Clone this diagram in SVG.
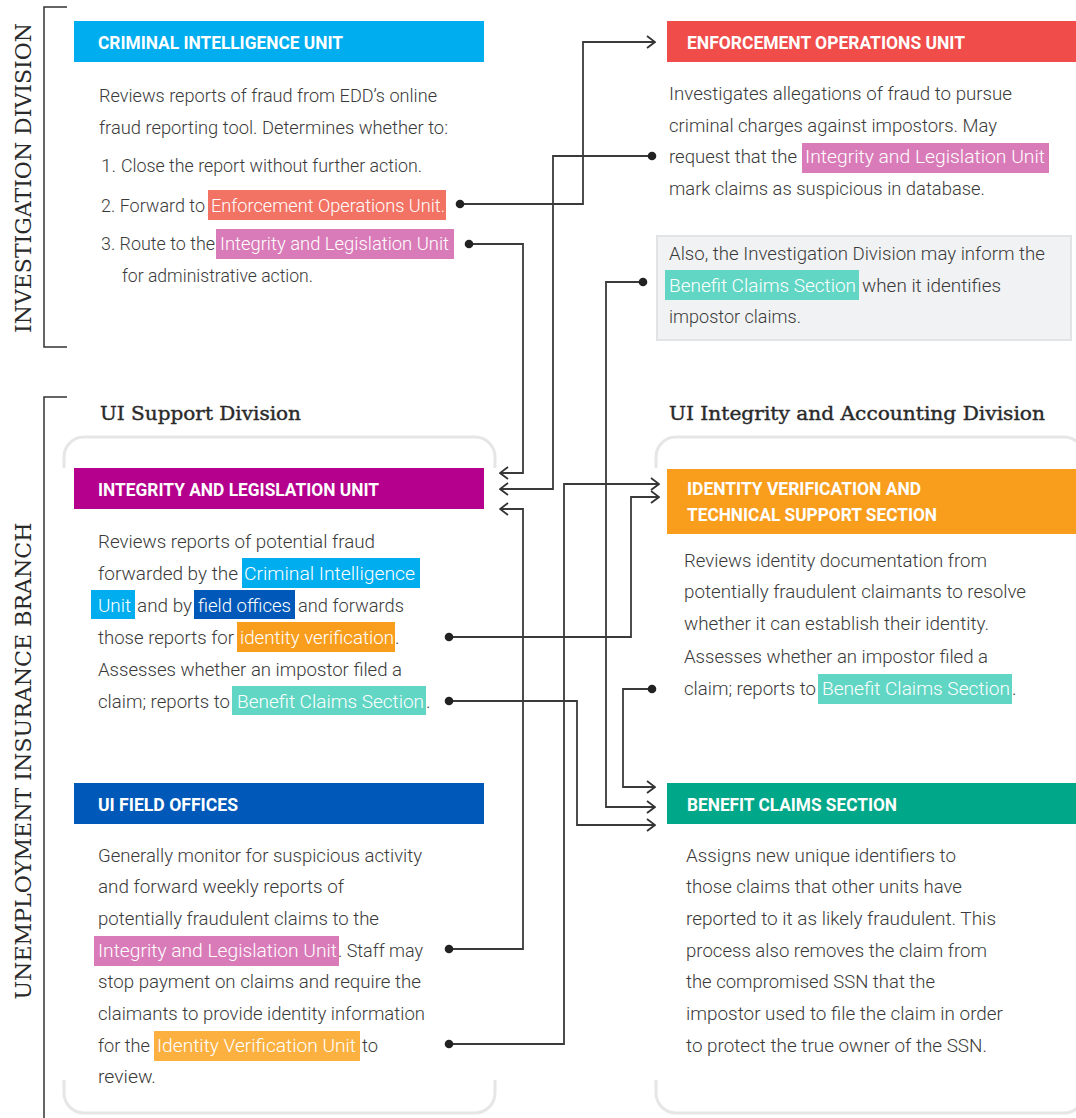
<svg xmlns="http://www.w3.org/2000/svg" width="1076" height="1118" viewBox="0 0 1076 1118">
<style>
.b{font-family:Roboto,"Liberation Sans",sans-serif;font-size:19px;font-weight:300;fill:#3a3a3a}
.w{fill:#ffffff}
.t{font-family:Roboto,"Liberation Sans",sans-serif;font-size:18px;font-weight:700;fill:#ffffff}
.d{font-family:"DejaVu Serif","Liberation Serif",serif;font-size:19px;fill:#2a2a2a;stroke:#2a2a2a;stroke-width:0.4}
.v{font-family:"DejaVu Serif","Liberation Serif",serif;font-size:23px;fill:#2a2a2a}
.br{fill:none;stroke:#333;stroke-width:1.5}
.ct{fill:none;stroke:#e6e6e6;stroke-width:3}
.cn{fill:none;stroke:#3a3a3a;stroke-width:1.8;marker-start:url(#dt);marker-end:url(#ah)}
</style>
<defs>
<marker id="ah" viewBox="0 0 10 14" refX="9" refY="7" markerWidth="10" markerHeight="14" markerUnits="userSpaceOnUse" orient="auto"><path d="M1,1 L9,7 L1,13" fill="none" stroke="#333" stroke-width="1.8"/></marker>
<marker id="dt" viewBox="0 0 10 10" refX="5" refY="5" markerWidth="10" markerHeight="10" markerUnits="userSpaceOnUse"><circle cx="5" cy="5" r="4.3" fill="#222"/></marker>
</defs>
<rect width="1076" height="1118" fill="#ffffff"/>

<g id="investigation-division">
<path class="br" d="M67,7 H44 V347 H67"/>
<text class="v" transform="translate(31,178) rotate(-90)" text-anchor="middle" textLength="310" lengthAdjust="spacingAndGlyphs">INVESTIGATION DIVISION</text>
</g>
<g id="ui-branch">
<path class="br" d="M67,397 H44 V1118"/>
<text class="v" transform="translate(31,761) rotate(-90)" text-anchor="middle" textLength="477" lengthAdjust="spacingAndGlyphs">UNEMPLOYMENT INSURANCE BRANCH</text>
</g>

<g id="ui-support-division">
<text class="d" x="100" y="420" textLength="201" lengthAdjust="spacingAndGlyphs">UI Support Division</text>
<path class="ct" d="M64,468 V457 A20,20 0 0 1 84,437 H475 A20,20 0 0 1 495,457 V468"/>
<path class="ct" d="M64,1080 V1093 A20,20 0 0 0 84,1113 H475 A20,20 0 0 0 495,1093 V1080"/>
</g>
<g id="ui-integrity-division">
<text class="d" x="669" y="420" textLength="376" lengthAdjust="spacingAndGlyphs">UI Integrity and Accounting Division</text>
<path class="ct" d="M656,468 V457 A20,20 0 0 1 676,437 H1064 A20,20 0 0 1 1084,457 V468"/>
<path class="ct" d="M656,1080 V1093 A20,20 0 0 0 676,1113 H1064 A20,20 0 0 0 1084,1093 V1080"/>
</g>

<g id="criminal-intelligence-unit">
<rect x="74" y="21" width="410" height="41" fill="#00aeef"/>
<text class="t" x="98" y="49" textLength="245" lengthAdjust="spacingAndGlyphs">CRIMINAL INTELLIGENCE UNIT</text>
<text class="b" x="99" y="102" textLength="338" lengthAdjust="spacingAndGlyphs">Reviews reports of fraud from EDD’s online</text>
<text class="b" x="99" y="134" textLength="349" lengthAdjust="spacingAndGlyphs">fraud reporting tool. Determines whether to:</text>
<text class="b" x="101" y="172">1.</text>
<text class="b" x="121" y="172" textLength="301" lengthAdjust="spacingAndGlyphs">Close the report without further action.</text>
<text class="b" x="101" y="212" textLength="104" lengthAdjust="spacingAndGlyphs">2. Forward to</text>
<rect x="208" y="190" width="238" height="30" fill="#f27264"/>
<text class="b w" x="211" y="212" textLength="234" lengthAdjust="spacingAndGlyphs">Enforcement Operations Unit.</text>
<text class="b" x="101" y="250" textLength="114" lengthAdjust="spacingAndGlyphs">3. Route to the</text>
<rect x="216" y="229" width="238" height="30" fill="#d97bb8"/>
<text class="b w" x="220" y="250" textLength="229" lengthAdjust="spacingAndGlyphs">Integrity and Legislation Unit</text>
<text class="b" x="122" y="282" textLength="191" lengthAdjust="spacingAndGlyphs">for administrative action.</text>
</g>

<g id="enforcement-operations-unit">
<rect x="667" y="21" width="409" height="41" fill="#ef4c4a"/>
<text class="t" x="687" y="49" textLength="278" lengthAdjust="spacingAndGlyphs">ENFORCEMENT OPERATIONS UNIT</text>
<text class="b" x="669" y="100" textLength="343" lengthAdjust="spacingAndGlyphs">Investigates allegations of fraud to pursue</text>
<text class="b" x="669" y="132" textLength="328" lengthAdjust="spacingAndGlyphs">criminal charges against impostors. May</text>
<text class="b" x="669" y="163" textLength="128" lengthAdjust="spacingAndGlyphs">request that the</text>
<rect x="802" y="143" width="247" height="30" fill="#d97bb8"/>
<text class="b w" x="805" y="163" textLength="240" lengthAdjust="spacingAndGlyphs">Integrity and Legislation Unit</text>
<text class="b" x="669" y="195" textLength="316" lengthAdjust="spacingAndGlyphs">mark claims as suspicious in database.</text>
</g>

<g id="investigation-note">
<rect x="657" y="236" width="414" height="104" fill="#f1f2f4" stroke="#e2e3e5" stroke-width="2"/>
<text class="b" x="669" y="260" textLength="376" lengthAdjust="spacingAndGlyphs">Also, the Investigation Division may inform the</text>
<rect x="665" y="270" width="194" height="30" fill="#62d6c4"/>
<text class="b w" x="669" y="292" textLength="187" lengthAdjust="spacingAndGlyphs">Benefit Claims Section</text>
<text class="b" x="862" y="292" textLength="139" lengthAdjust="spacingAndGlyphs">when it identifies</text>
<text class="b" x="669" y="323" textLength="132" lengthAdjust="spacingAndGlyphs">impostor claims.</text>
</g>

<g id="integrity-legislation-unit">
<rect x="74" y="468" width="410" height="41" fill="#b4008c"/>
<text class="t" x="98" y="496" textLength="281" lengthAdjust="spacingAndGlyphs">INTEGRITY AND LEGISLATION UNIT</text>
<text class="b" x="98" y="548" textLength="277" lengthAdjust="spacingAndGlyphs">Reviews reports of potential fraud</text>
<text class="b" x="98" y="580" textLength="140" lengthAdjust="spacingAndGlyphs">forwarded by the</text>
<rect x="242" y="558" width="178" height="30" fill="#00aeef"/>
<text class="b w" x="244" y="580" textLength="171" lengthAdjust="spacingAndGlyphs">Criminal Intelligence</text>
<rect x="91" y="590" width="44" height="29" fill="#00aeef"/>
<text class="b w" x="98" y="612" textLength="33" lengthAdjust="spacingAndGlyphs">Unit</text>
<text class="b" x="137" y="612" textLength="55" lengthAdjust="spacingAndGlyphs">and by</text>
<rect x="194" y="590" width="101" height="29" fill="#0059b8"/>
<text class="b w" x="198" y="612" textLength="93" lengthAdjust="spacingAndGlyphs">field offices</text>
<text class="b" x="298" y="612" textLength="106" lengthAdjust="spacingAndGlyphs">and forwards</text>
<text class="b" x="98" y="644" textLength="136" lengthAdjust="spacingAndGlyphs">those reports for</text>
<rect x="237" y="622" width="158" height="30" fill="#f99d1d"/>
<text class="b w" x="240" y="644" textLength="154" lengthAdjust="spacingAndGlyphs">identity verification</text>
<text class="b" x="395" y="644">.</text>
<text class="b" x="98" y="676" textLength="304" lengthAdjust="spacingAndGlyphs">Assesses whether an impostor filed a</text>
<text class="b" x="98" y="708" textLength="132" lengthAdjust="spacingAndGlyphs">claim; reports to</text>
<rect x="232" y="686" width="194" height="29" fill="#62d6c4"/>
<text class="b w" x="237" y="708" textLength="187" lengthAdjust="spacingAndGlyphs">Benefit Claims Section</text>
<text class="b" x="426" y="708">.</text>
</g>

<g id="identity-verification-section">
<rect x="667" y="469" width="409" height="65" fill="#f99d1d"/>
<text class="t" x="687" y="495" textLength="234" lengthAdjust="spacingAndGlyphs">IDENTITY VERIFICATION AND</text>
<text class="t" x="687" y="521" textLength="250" lengthAdjust="spacingAndGlyphs">TECHNICAL SUPPORT SECTION</text>
<text class="b" x="684" y="567" textLength="303" lengthAdjust="spacingAndGlyphs">Reviews identity documentation from</text>
<text class="b" x="684" y="598" textLength="342" lengthAdjust="spacingAndGlyphs">potentially fraudulent claimants to resolve</text>
<text class="b" x="684" y="630" textLength="305" lengthAdjust="spacingAndGlyphs">whether it can establish their identity.</text>
<text class="b" x="684" y="663" textLength="304" lengthAdjust="spacingAndGlyphs">Assesses whether an impostor filed a</text>
<text class="b" x="684" y="695" textLength="132" lengthAdjust="spacingAndGlyphs">claim; reports to</text>
<rect x="818" y="674" width="194" height="30" fill="#62d6c4"/>
<text class="b w" x="822" y="695" textLength="188" lengthAdjust="spacingAndGlyphs">Benefit Claims Section</text>
<text class="b" x="1012" y="695">.</text>
</g>

<g id="ui-field-offices">
<rect x="74" y="783" width="410" height="41" fill="#0059b8"/>
<text class="t" x="98" y="811" textLength="140" lengthAdjust="spacingAndGlyphs">UI FIELD OFFICES</text>
<text class="b" x="98" y="862" textLength="324" lengthAdjust="spacingAndGlyphs">Generally monitor for suspicious activity</text>
<text class="b" x="98" y="893" textLength="246" lengthAdjust="spacingAndGlyphs">and forward weekly reports of</text>
<text class="b" x="98" y="925" textLength="281" lengthAdjust="spacingAndGlyphs">potentially fraudulent claims to the</text>
<rect x="94" y="936" width="245" height="30" fill="#d97bb8"/>
<text class="b w" x="98" y="957" textLength="239" lengthAdjust="spacingAndGlyphs">Integrity and Legislation Unit</text>
<text class="b" x="338" y="957" textLength="85" lengthAdjust="spacingAndGlyphs">. Staff may</text>
<text class="b" x="98" y="988" textLength="323" lengthAdjust="spacingAndGlyphs">stop payment on claims and require the</text>
<text class="b" x="98" y="1020" textLength="327" lengthAdjust="spacingAndGlyphs">claimants to provide identity information</text>
<text class="b" x="98" y="1052" textLength="52" lengthAdjust="spacingAndGlyphs">for the</text>
<rect x="154" y="1031" width="206" height="30" fill="#fbb040"/>
<text class="b w" x="157" y="1052" textLength="199" lengthAdjust="spacingAndGlyphs">Identity Verification Unit</text>
<text class="b" x="362" y="1052" textLength="16" lengthAdjust="spacingAndGlyphs">to</text>
<text class="b" x="98" y="1083" textLength="58" lengthAdjust="spacingAndGlyphs">review.</text>
</g>

<g id="benefit-claims-section">
<rect x="667" y="783" width="409" height="41" fill="#00a788"/>
<text class="t" x="687" y="811" textLength="210" lengthAdjust="spacingAndGlyphs">BENEFIT CLAIMS SECTION</text>
<text class="b" x="686" y="862" textLength="270" lengthAdjust="spacingAndGlyphs">Assigns new unique identifiers to</text>
<text class="b" x="686" y="893" textLength="276" lengthAdjust="spacingAndGlyphs">those claims that other units have</text>
<text class="b" x="686" y="925" textLength="310" lengthAdjust="spacingAndGlyphs">reported to it as likely fraudulent. This</text>
<text class="b" x="686" y="957" textLength="301" lengthAdjust="spacingAndGlyphs">process also removes the claim from</text>
<text class="b" x="686" y="988" textLength="249" lengthAdjust="spacingAndGlyphs">the compromised SSN that the</text>
<text class="b" x="686" y="1020" textLength="317" lengthAdjust="spacingAndGlyphs">impostor used to file the claim in order</text>
<text class="b" x="686" y="1052" textLength="301" lengthAdjust="spacingAndGlyphs">to protect the true owner of the SSN.</text>
</g>

<g id="connectors">
<path class="cn" d="M460,204 H583 V42 H655"/>
<path class="cn" d="M469,244 H523 V473 H500"/>
<path class="cn" d="M652,156 H553 V489 H500"/>
<path class="cn" d="M643,282 H606 V807 H655"/>
<path class="cn" d="M449,637 H631 V497 H659"/>
<path class="cn" d="M449,701 H577 V825 H655"/>
<path class="cn" d="M652,689 H623 V787 H655"/>
<path class="cn" d="M449,949 H523 V509 H500"/>
<path class="cn" d="M449,1044 H564 V484 H659"/>
</g>
</svg>
